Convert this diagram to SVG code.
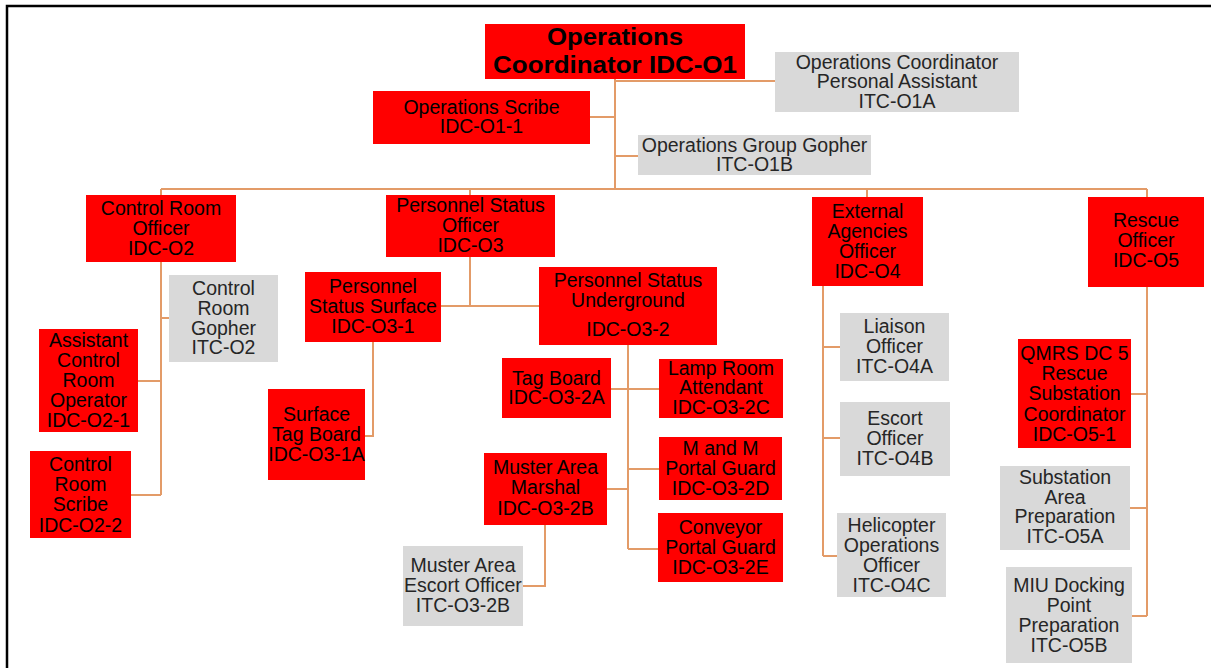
<svg xmlns="http://www.w3.org/2000/svg" width="1211" height="668" viewBox="0 0 1211 668">
<style>
.r{fill:#FF0000}
.g{fill:#D9D9D9}
text{font-family:"Liberation Sans",Arial,sans-serif;font-size:19.5px;text-anchor:middle}
.tr{fill:#000}
.tg{fill:#262626}
.b{font-weight:bold;font-size:23px}
#connectors path{fill:none;stroke:#E39B68;stroke-width:2}
</style>
<rect width="1211" height="668" fill="#fff"/>
<path d="M7,668 V6 H1211" fill="none" stroke="#000" stroke-width="2.5"/>
<g id="connectors">
<path d="M615,79 V189 M615,81 H775 M590,117 H615 M615,156 H638"/>
<path d="M161,189 H1147 M161,189 V195 M470,189 V195 M867,189 V197 M1147,189 V197"/>
<path d="M161,262 V495 M161,318 H169 M138,381 H161 M131,495 H161"/>
<path d="M470,257 V306 M441,306 H539 M373,342 V436 H365"/>
<path d="M628,345 V549 M611,389 H659 M628,469 H659 M607,489 H628 M628,549 H658 M545,525 V586 H523"/>
<path d="M823,286 V556 M823,347 H840 M823,438 H840 M823,556 H837"/>
<path d="M1147,287 V616 M1131,394 H1147 M1130,508 H1147 M1132,616 H1147"/>
</g>
<g id="n-root"><rect class="r" x="485" y="24" width="260" height="55"/>
<text class="tr b" x="615" y="45" textLength="136" lengthAdjust="spacingAndGlyphs">Operations</text>
<text class="tr b" x="615" y="73" textLength="244" lengthAdjust="spacingAndGlyphs">Coordinator IDC-O1</text></g>
<g id="n-o1-1"><rect class="r" x="373" y="91" width="217" height="53"/>
<text class="tr" x="481.5" y="113.5">Operations Scribe</text><text class="tr" x="481.5" y="133.3">IDC-O1-1</text></g>
<g id="n-o1a"><rect class="g" x="775" y="52" width="244" height="60"/>
<text class="tg" x="897" y="68.5">Operations Coordinator</text><text class="tg" x="897" y="88">Personal Assistant</text><text class="tg" x="897" y="107.5">ITC-O1A</text></g>
<g id="n-o1b"><rect class="g" x="638" y="135" width="233" height="40"/>
<text class="tg" x="754.5" y="151.5">Operations Group Gopher</text><text class="tg" x="754.5" y="171">ITC-O1B</text></g>
<g id="n-o2"><rect class="r" x="86" y="195" width="150" height="67"/>
<text class="tr" x="161" y="215">Control Room</text><text class="tr" x="161" y="234.8">Officer</text><text class="tr" x="161" y="254.6">IDC-O2</text></g>
<g id="n-o3"><rect class="r" x="386" y="195" width="169" height="62"/>
<text class="tr" x="470.5" y="212">Personnel Status</text><text class="tr" x="470.5" y="231.8">Officer</text><text class="tr" x="470.5" y="251.6">IDC-O3</text></g>
<g id="n-o4"><rect class="r" x="812" y="197" width="111" height="89"/>
<text class="tr" x="867.5" y="217.5">External</text><text class="tr" x="867.5" y="237.5">Agencies</text><text class="tr" x="867.5" y="257.5">Officer</text><text class="tr" x="867.5" y="277.5">IDC-O4</text></g>
<g id="n-o5"><rect class="r" x="1088" y="197" width="116" height="90"/>
<text class="tr" x="1146" y="227">Rescue</text><text class="tr" x="1146" y="247">Officer</text><text class="tr" x="1146" y="267">IDC-O5</text></g>
<g id="n-itc-o2"><rect class="g" x="169" y="275" width="109" height="87"/>
<text class="tg" x="223.5" y="295">Control</text><text class="tg" x="223.5" y="314.8">Room</text><text class="tg" x="223.5" y="334.6">Gopher</text><text class="tg" x="223.5" y="354.4">ITC-O2</text></g>
<g id="n-o2-1"><rect class="r" x="39" y="329" width="99" height="103"/>
<text class="tr" x="88.5" y="346.5">Assistant</text><text class="tr" x="88.5" y="366.6">Control</text><text class="tr" x="88.5" y="386.7">Room</text><text class="tr" x="88.5" y="406.8">Operator</text><text class="tr" x="88.5" y="426.9">IDC-O2-1</text></g>
<g id="n-o2-2"><rect class="r" x="30" y="451" width="101" height="87"/>
<text class="tr" x="80.5" y="471">Control</text><text class="tr" x="80.5" y="491.2">Room</text><text class="tr" x="80.5" y="511.4">Scribe</text><text class="tr" x="80.5" y="531.6">IDC-O2-2</text></g>
<g id="n-o3-1"><rect class="r" x="305" y="272" width="136" height="70"/>
<text class="tr" x="373" y="293">Personnel</text><text class="tr" x="373" y="313">Status Surface</text><text class="tr" x="373" y="333">IDC-O3-1</text></g>
<g id="n-o3-2"><rect class="r" x="539" y="267" width="178" height="78"/>
<text class="tr" x="628" y="287">Personnel Status</text><text class="tr" x="628" y="307">Underground</text><text class="tr" x="628" y="336">IDC-O3-2</text></g>
<g id="n-o3-1a"><rect class="r" x="268" y="389" width="97" height="91"/>
<text class="tr" x="316.5" y="420.5">Surface</text><text class="tr" x="316.5" y="440.5">Tag Board</text><text class="tr" x="316.5" y="460.5">IDC-O3-1A</text></g>
<g id="n-o3-2a"><rect class="r" x="502" y="358" width="109" height="60"/>
<text class="tr" x="556.5" y="384.5">Tag Board</text><text class="tr" x="556.5" y="403.8">IDC-O3-2A</text></g>
<g id="n-o3-2c"><rect class="r" x="659" y="359" width="124" height="59"/>
<text class="tr" x="721" y="374.5">Lamp Room</text><text class="tr" x="721" y="394.3">Attendant</text><text class="tr" x="721" y="414.1">IDC-O3-2C</text></g>
<g id="n-o3-2d"><rect class="r" x="659" y="437" width="123" height="63"/>
<text class="tr" x="720.5" y="454.5">M and M</text><text class="tr" x="720.5" y="474.5">Portal Guard</text><text class="tr" x="720.5" y="494.5">IDC-O3-2D</text></g>
<g id="n-o3-2b"><rect class="r" x="484" y="453" width="123" height="72"/>
<text class="tr" x="545.5" y="473.5">Muster Area</text><text class="tr" x="545.5" y="494.3">Marshal</text><text class="tr" x="545.5" y="515.1">IDC-O3-2B</text></g>
<g id="n-o3-2e"><rect class="r" x="658" y="513" width="125" height="69"/>
<text class="tr" x="720.5" y="534.3">Conveyor</text><text class="tr" x="720.5" y="554.2">Portal Guard</text><text class="tr" x="720.5" y="574.1">IDC-O3-2E</text></g>
<g id="n-itc-o3-2b"><rect class="g" x="403" y="546" width="120" height="80"/>
<text class="tg" x="463" y="572">Muster Area</text><text class="tg" x="463" y="591.9">Escort Officer</text><text class="tg" x="463" y="611.8">ITC-O3-2B</text></g>
<g id="n-o4a"><rect class="g" x="840" y="313" width="109" height="68"/>
<text class="tg" x="894.5" y="333">Liaison</text><text class="tg" x="894.5" y="353">Officer</text><text class="tg" x="894.5" y="373">ITC-O4A</text></g>
<g id="n-o4b"><rect class="g" x="840" y="402" width="110" height="74"/>
<text class="tg" x="895" y="424.8">Escort</text><text class="tg" x="895" y="444.9">Officer</text><text class="tg" x="895" y="465">ITC-O4B</text></g>
<g id="n-o4c"><rect class="g" x="837" y="513" width="109" height="84"/>
<text class="tg" x="891.5" y="531.8">Helicopter</text><text class="tg" x="891.5" y="551.8">Operations</text><text class="tg" x="891.5" y="571.8">Officer</text><text class="tg" x="891.5" y="591.8">ITC-O4C</text></g>
<g id="n-o5-1"><rect class="r" x="1018" y="339" width="113" height="109"/>
<text class="tr" x="1074.5" y="359.8">QMRS DC 5</text><text class="tr" x="1074.5" y="380.1">Rescue</text><text class="tr" x="1074.5" y="400.4">Substation</text><text class="tr" x="1074.5" y="420.7">Coordinator</text><text class="tr" x="1074.5" y="441">IDC-O5-1</text></g>
<g id="n-o5a"><rect class="g" x="1000" y="466" width="130" height="84"/>
<text class="tg" x="1065" y="483.6">Substation</text><text class="tg" x="1065" y="503.5">Area</text><text class="tg" x="1065" y="523.4">Preparation</text><text class="tg" x="1065" y="543.3">ITC-O5A</text></g>
<g id="n-o5b"><rect class="g" x="1006" y="567" width="126" height="96"/>
<text class="tg" x="1069" y="591.5">MIU Docking</text><text class="tg" x="1069" y="611.5">Point</text><text class="tg" x="1069" y="631.5">Preparation</text><text class="tg" x="1069" y="651.5">ITC-O5B</text></g>
</svg>
